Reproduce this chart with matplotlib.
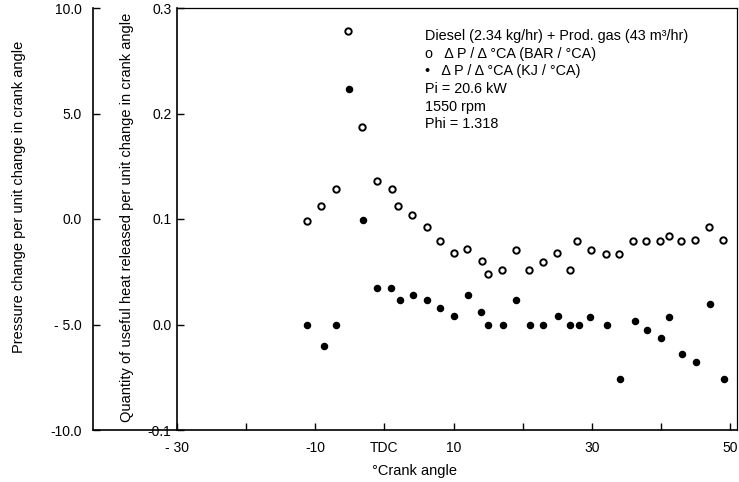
import matplotlib
matplotlib.use("Agg")
import matplotlib.pyplot as plt
from matplotlib.lines import Line2D
import numpy as np

plt.rcParams['font.family'] = ['Liberation Sans', 'DejaVu Sans']

# open circles: pressure change, BAR / degree CA (left outer axis)
angle_p = [-11.2, -9.1, -7.0, -5.3, -3.2, -1.0, 1.1, 1.9, 4.0, 6.1, 8.0,
           10.0, 12.0, 14.1, 15.0, 17.0, 19.0, 20.9, 22.9, 24.9, 26.9, 27.9,
           29.9, 32.0, 33.9, 35.9, 37.9, 39.9, 41.1, 42.9, 44.9, 47.0, 49.0]
dp = [-0.1, 0.6, 1.4, 8.9, 4.35, 1.8, 1.4, 0.6, 0.2, -0.4, -1.05,
      -1.6, -1.4, -2.0, -2.6, -2.4, -1.45, -2.4, -2.05, -1.6, -2.4, -1.05,
      -1.45, -1.65, -1.65, -1.05, -1.05, -1.05, -0.8, -1.05, -1.0, -0.4, -1.0]

# filled circles: heat released, KJ / degree CA (inner axis)
angle_q = [-11.2, -8.75, -7.0, -5.1, -3.1, -1.0, 1.0, 2.2, 4.1, 6.1, 8.1,
           10.1, 12.1, 14.0, 15.0, 17.1, 19.05, 21.0, 23.0, 25.05, 26.8, 28.1,
           29.8, 32.2, 34.1, 36.2, 38.0, 40.0, 41.1, 43.05, 45.1, 47.1, 49.1]
dq = [0.0, -0.020, 0.0, 0.223, 0.099, 0.035, 0.035, 0.023, 0.028, 0.023, 0.016,
      0.008, 0.028, 0.012, 0.0, 0.0, 0.023, 0.0, 0.0, 0.008, 0.0, 0.0,
      0.007, 0.0, -0.052, 0.0035, -0.005, -0.013, 0.007, -0.028, -0.036, 0.019, -0.052]

x_ticks = [-30, -20, -10, 0, 10, 20, 30, 40, 50]
x_labels = ['- 30', '', '-10', 'TDC', '10', '', '30', '', '50']
q_ticks = [-0.1, 0.0, 0.1, 0.2, 0.3]
q_labels = ['-0.1', '0.0', '0.1', '0.2', '0.3']
p_ticks = [-10, -5, 0, 5, 10]
p_labels = ['-10.0', '- 5.0', '0.0', '5.0', '10.0']

W, H = 739, 482
fig = plt.figure(figsize=(W / 100, H / 100), dpi=100)
ax = fig.add_axes([177 / W, 52 / H, 560 / W, 422 / H])

ax.plot(angle_q, dq, 'o', color='black', markersize=4.4, linestyle='none')
ax.set_xlim(-30, 51)
ax.set_ylim(-0.1, 0.3)
ax.set_xticks(x_ticks)
ax.set_xticklabels(x_labels)
ax.set_yticks(q_ticks)
ax.set_yticklabels(q_labels)
ax.tick_params(direction='in', length=5, width=1, labelsize=10)
ax.tick_params(axis='y', pad=4)
ax.tick_params(axis='x', pad=8)
for s in ax.spines.values():
    s.set_linewidth(1.2)
ax.spines['top'].set_linewidth(0.9)
ax.spines['right'].set_linewidth(0.9)

ax.set_xlabel('°Crank angle', fontsize=10.5)
ax.xaxis.set_label_coords(0.425, -0.08)
ax.set_ylabel('Quantity of useful heat released per unit change in crank angle', fontsize=10.5)
ax.yaxis.set_label_coords(-0.077, 0.505)

# outer pressure axis
ax2 = ax.twinx()
ax2.plot(angle_p, dp, 'o', markerfacecolor='white', markeredgecolor='black',
         markeredgewidth=1.4, markersize=4.6, linestyle='none')
ax2.set_ylim(-10, 10)
ax2.spines['left'].set_position(('axes', -0.15))
ax2.spines['left'].set_linewidth(1.2)
for k in ['right', 'top', 'bottom']:
    ax2.spines[k].set_visible(False)
ax2.yaxis.set_ticks_position('left')
ax2.yaxis.set_label_position('left')
ax2.set_yticks(p_ticks)
ax2.set_yticklabels(p_labels)
ax2.tick_params(direction='in', length=5, width=1, labelsize=10, pad=8)
ax2.set_ylabel('Pressure change per unit change in crank angle', fontsize=10.5)
ax2.yaxis.set_label_coords(-0.27, 0.552)

# bottom line joining the two left axes
fig.add_artist(Line2D([93 / W, 177 / W], [52 / H, 52 / H], color='black', linewidth=1.2))

note = ('Diesel (2.34 kg/hr) + Prod. gas (43 m³/hr)\n'
        'o   Δ P / Δ °CA (BAR / °CA)\n'
        '•   Δ P / Δ °CA (KJ / °CA)\n'
        'Pi = 20.6 kW\n'
        '1550 rpm\n'
        'Phi = 1.318')
ax.text(0.443, 0.95, note, transform=ax.transAxes, ha='left', va='top',
        fontsize=10.4, linespacing=1.33)

fig.savefig('out.png', dpi=100)
